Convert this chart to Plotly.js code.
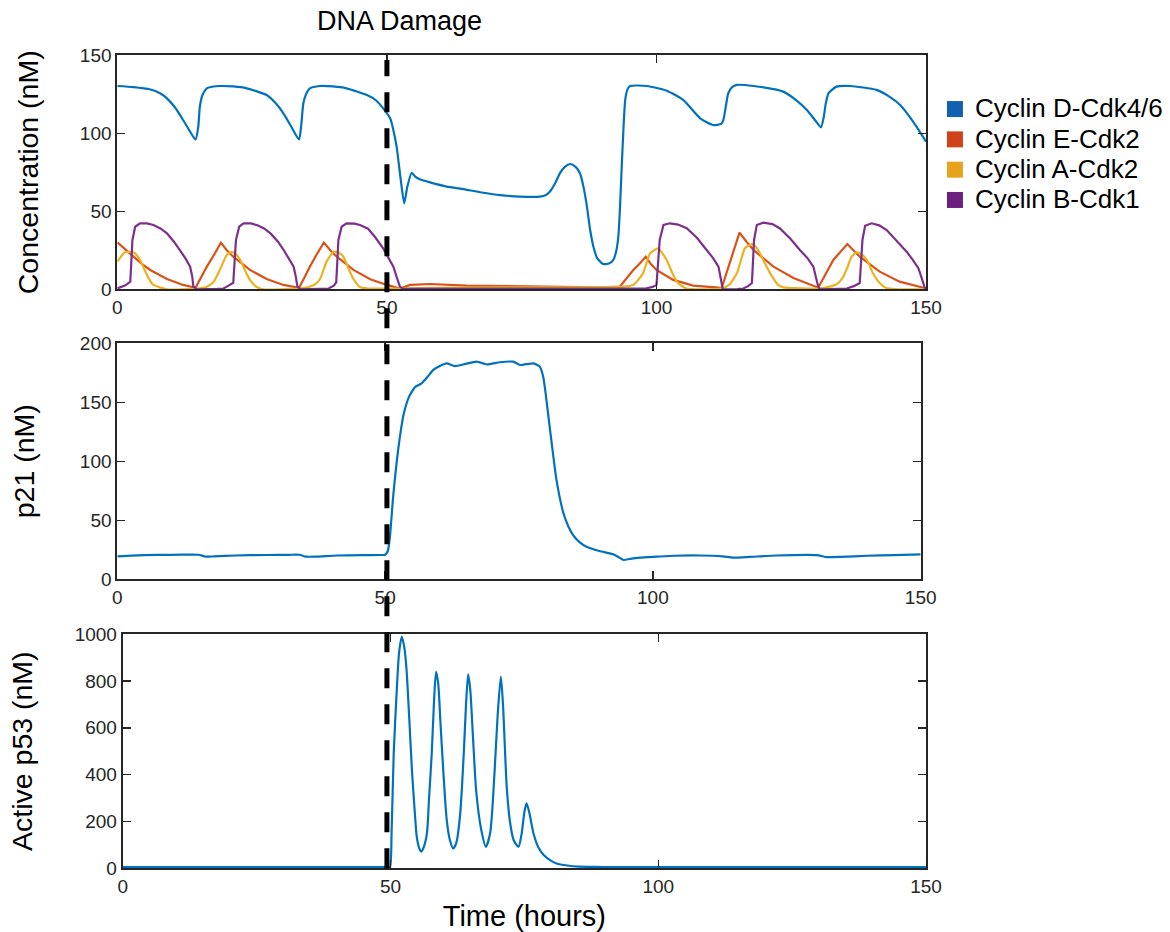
<!DOCTYPE html>
<html>
<head>
<meta charset="utf-8">
<script src="https://cdn.plot.ly/plotly-3.0.1.min.js"></script>
<style>html,body{margin:0;padding:0;background:#fff;}#chart{width:1170px;height:932px;}</style>
</head>
<body>
<div id="chart"></div>
<script>
// ---- Data ----
const seriesNames = ['Cyclin D-Cdk4/6', 'Cyclin E-Cdk2', 'Cyclin A-Cdk2', 'Cyclin B-Cdk1'];

const cycDT = [0,3,6,8,9.2,10.7,12.2,13.5,14.5,15.0,15.3,15.8,16.6,17.8,19.0,21.5,24,27.7,29.3,30.8,32.3,33.7,34.1,34.5,35.0,35.7,37.6,40,42.5,46.3,48,49.3,50.6,51.2,51.8,52.5,53.2,53.8,54.6,55.3,56.1,58,61.1,63.6,67.9,71,74.7,78.4,79.5,80.2,81.2,82.1,83,84.0,85.0,85.8,86.5,87.1,87.7,88.3,89.0,90.1,91.2,92.0,92.5,92.9,93.2,93.5,93.9,94.2,94.6,95.1,98.2,101.9,105.0,108.1,110.5,112.0,112.4,112.9,113.3,114.0,114.9,118.0,123.5,126,127.9,129.5,130.5,131.0,131.4,131.9,133.4,135.9,140.8,143.2,145.2,147.6,150];
const cycD  = [130.3,129.6,128.2,125.5,122.4,116.5,108.5,101,96,104,117,124.5,128.8,130,130.3,130,128.8,124.5,119.5,112.8,104,96,105,119.2,125,128.8,130.3,130,128.8,124.5,121,116,109.6,102,91.4,72,55.1,66,74.7,72,70.5,68.5,65.8,64.5,61.9,60.4,59.4,59.4,60.5,62.5,68,74.5,78.5,80.3,78.5,74.4,65,53,38,27.3,20,16.2,16.5,18.8,24,33,50,74.4,105,121.3,128,130.3,130.3,127.3,121.3,109.6,105.3,106,108.5,118,125.6,129.5,131,130.3,126.7,121,115,108,103.8,110,119,125.6,129.9,130.3,127.8,123.5,118.1,107.4,94.6];

const cycET = [0,1.5,3,4.6,6.1,9.2,12.2,14.5,15.5,16.6,18,19.2,20.3,21.5,24.6,27.7,30.8,33.7,34.7,35.7,37,38.3,39.5,40.7,43.8,46.9,50,52.4,54.3,58,64.8,74.7,80,89.5,93.2,94.2,95.7,96.9,98.0,99,100,103.1,106.8,112.1,113.6,115.4,116.7,118,121.7,125.4,130,131.4,132.8,135.4,137.7,141.4,145.1,149.5,150];
const cycE  = [30.1,25.2,20.9,16.2,12.4,6.6,2.8,1,7.5,14.5,22.5,29.9,25,20.9,12.4,6.6,2.8,1,7.5,14.5,22.5,29.9,25,20.9,12.4,6.4,2.8,0.5,2.8,3.4,2.4,1.9,1.5,1.3,1.7,6,12.4,16.5,20.9,16,12.4,6,2.4,1,17,36.3,30.5,25.2,14.5,7.3,1,10,18.8,29,20.9,11.3,4.9,1,0.8];

const cycAT = [0,1.4,3,4.0,4.8,5.8,6.7,9.2,14.8,16.5,17.8,19.0,20.3,21.2,22.0,22.8,23.7,24.6,25.8,27,33.7,35.5,36.8,37.6,38.8,40.1,41,41.9,42.9,43.8,45,46.5,52,60,80,93,95.7,97.5,98.8,100.3,101.1,101.9,103,104,105.5,112,113.5,114.9,115.7,116.4,117.7,118.5,119.2,120.2,121.1,122.5,123.5,130,132.5,133.7,134.6,135.4,136.2,137.1,138,139,140.2,141.4,142.5,145,150];
const cycA  = [17.7,23.7,23.7,20,14.5,7,2.8,0,0.5,1.5,4.5,12.4,22,24,22.5,18.8,12,6,1.5,0,0.5,1.5,3.5,6.6,17.7,24,23.5,21,13,6.6,1.5,0.5,0.5,1,1.3,1.5,2.8,10.2,23,26.3,23,18.8,10,4,0.5,0.5,3,10.2,19,26.3,29,27,23,16,10.2,3,1.2,0.5,2,4,7.7,14,20.9,23.7,22.5,18.8,10,4,1,0,0];

const cycBT = [0,1.5,2.4,2.8,3.3,4.2,5.5,6.7,8,9.2,10.5,11.6,12.6,13.5,13.9,14.1,14.8,18.5,19.7,20.7,21.5,22.0,22.6,23.4,24.8,26,27.3,28.5,29.8,30.8,31.8,32.7,33.1,33.4,34,38,39.2,40.2,40.6,41.0,41.6,42.5,44,45,46.5,47.8,49.3,50.3,51.2,51.8,52.4,53,70,90,98,99.3,100,100.6,101.3,102.5,104,105.6,107.5,109.3,110.5,111.5,111.8,112.1,112.3,115,116.1,117,117.7,118.1,118.6,119.8,121.5,122.9,124.8,126.6,128,129.1,129.6,130.0,130.3,134,135.3,136.6,137.7,138.2,138.7,139.9,141.3,142.7,144.5,146.4,147.5,148.6,149.3,149.8,150];
const cycB  = [0.6,2.5,4.9,31.6,40.1,42.3,42.2,41.2,39,35.9,30.5,25.2,20,14.5,8,1.7,0,0.3,0.5,2.5,4.2,31.6,40.1,42.3,42.2,41,38.8,35.5,30.5,25.5,20,14.5,8,1.7,0,0.3,0.5,2.5,4.5,31.6,40.1,42.3,42.1,41.2,38.8,33.5,26.3,20,14.5,8,1.7,0.3,0.2,0.3,0.5,1.5,2.8,31.6,41.2,42.3,41.5,39.1,33,25.2,20,14.5,8,1.7,0,0.2,0.5,2,4,31.6,41.2,42.7,41.8,39,32.5,25.2,20,14.5,8,1.7,0,0.3,0.5,2,4,31.6,40.7,42.3,41,38,31.5,24.1,19,13.4,6,0.5,0.3];

const p21T = [0,5,10,14,15.2,16.5,18,22,28,32,34,35.2,37,41,46,49.6,50,50.5,50.9,51.5,52.5,53.5,54.5,55.6,56.8,58,59,60.3,61.5,63,65,67.1,69,71.4,73.9,75.2,77.7,78.9,79.5,79.9,80.8,82,83.3,84.2,85.1,86.3,87.6,90,92.6,93.5,94.5,96,97.6,100.7,104,108.8,113,115,118,123,130.6,132.5,135,140,145,150];
const p21  = [19.5,20.5,20.8,21,20.8,19.2,19.4,20.2,20.6,20.8,20.8,19.2,19.2,20.2,20.5,20.6,20.8,24,36,70,112,140.7,155,163,166,172,177.4,181,183,180.7,182.5,184.4,182,183.9,184.4,181.6,183,180,172,160,126.5,84,56,45,37.5,31.5,27.6,24,21.2,19,16.4,17.6,18.4,19.2,20,20.2,19.5,18.4,19,20.2,20.5,18.8,19,20,20.5,21.2];

const p53T = [0,10,20,30,40,49,49.6,49.9,50.2,50.6,51.2,51.6,52.1,52.6,53.0,53.5,54,54.5,54.9,55.3,55.7,56.2,56.8,57.2,57.7,58.1,58.5,58.9,59.3,59.9,60.5,61.1,61.7,62.3,63,63.7,64.1,64.5,64.9,65.4,66,66.9,67.8,68.6,69.4,70.0,70.6,71.0,71.7,72.3,73,73.9,74.5,75.0,75.4,75.9,76.7,77.6,78.6,80,81,83,85.2,88,92,100,120,150];
const p53  = [5,5,5,5,5,5,5,5,150,491,775,920,988,940,846,640,420,250,135,90,71,90,149,300,491,700,839,790,633,400,206,120,85,110,230,500,700,828,760,560,330,170,92,150,400,650,818,700,348,200,120,92,150,240,277,240,149,90,57,32,21,12,7,6,5,5,5,5];

const damageTime = 50;
const xTicks = [0, 50, 100, 150];
const yTicksTop = [0, 50, 100, 150];
const yTicksMid = [0, 50, 100, 150, 200];
const yTicksBot = [0, 200, 400, 600, 800, 1000];

// ---- Styles ----
const lineColors = ['#0072BD', '#D95319', '#EDB120', '#7E2F8E'];
const legendColors = ['#135fb0', '#d0431a', '#e6a320', '#6c1f7f'];
const FONT = 'Liberation Sans, Arial, Helvetica, sans-serif';
const AX = '#262626';

const traces = [
  {x: cycDT, y: cycD, xaxis: 'x', yaxis: 'y', mode: 'lines', line: {color: lineColors[0], width: 2.2, shape: 'spline', smoothing: 0.6}, showlegend: false},
  {x: cycET, y: cycE, xaxis: 'x', yaxis: 'y', mode: 'lines', line: {color: lineColors[1], width: 2.2}, showlegend: false},
  {x: cycAT, y: cycA, xaxis: 'x', yaxis: 'y', mode: 'lines', line: {color: lineColors[2], width: 2.2, shape: 'spline', smoothing: 0.5}, showlegend: false},
  {x: cycBT, y: cycB, xaxis: 'x', yaxis: 'y', mode: 'lines', line: {color: lineColors[3], width: 2.2}, showlegend: false},
  {x: p21T, y: p21, xaxis: 'x2', yaxis: 'y2', mode: 'lines', line: {color: lineColors[0], width: 2.2, shape: 'spline', smoothing: 0.5}, showlegend: false},
  {x: p53T, y: p53, xaxis: 'x3', yaxis: 'y3', mode: 'lines', line: {color: lineColors[0], width: 2.2, shape: 'spline', smoothing: 0.7}, showlegend: false}
];
// legend entries (square patches)
seriesNames.forEach((n, i) => {
  traces.push({x: [null], y: [null], xaxis: 'x', yaxis: 'y', mode: 'markers',
    name: '<span style="font-size:26px">' + n + '</span>',
    marker: {symbol: 'square', size: 19, color: legendColors[i]}, showlegend: true, hoverinfo: 'skip'});
});

function xax(domain, anchor, title) {
  return {
    domain: domain, anchor: anchor, range: [0, 150], tickvals: xTicks, ticktext: xTicks.map(String),
    ticks: 'inside', ticklen: 8, tickwidth: 1.5, tickcolor: AX,
    showline: true, linecolor: AX, linewidth: 2, mirror: 'ticks',
    showgrid: false, zeroline: false, automargin: false,
    tickfont: {family: FONT, size: 19, color: AX},
    title: title ? {text: title, font: {family: FONT, size: 29, color: '#000'}, standoff: 10} : undefined
  };
}
function yax(domain, anchor, range, ticks, title, standoff) {
  return {
    domain: domain, anchor: anchor, range: range, tickvals: ticks, ticktext: ticks.map(String),
    ticks: 'inside', ticklen: 8, tickwidth: 1.5, tickcolor: AX,
    showline: true, linecolor: AX, linewidth: 2, mirror: 'ticks',
    showgrid: false, zeroline: false, automargin: false,
    tickfont: {family: FONT, size: 19, color: AX},
    title: {text: title, font: {family: FONT, size: 28.5, color: '#000'}, standoff: standoff}
  };
}

const layout = {
  width: 1170, height: 932,
  margin: {l: 0, r: 0, t: 0, b: 0, autoexpand: false},
  paper_bgcolor: '#fff', plot_bgcolor: '#fff',
  font: {family: FONT, color: '#000'},
  xaxis:  xax([0.1003, 0.7915], 'y', null),
  yaxis:  yax([0.6896, 0.9407], 'x', [0, 150], yTicksTop, 'Concentration (nM)', 33),
  xaxis2: xax([0.1003, 0.7869], 'y2', null),
  yaxis2: yax([0.3784, 0.6317], 'x2', [0, 200], yTicksMid, 'p21 (nM)', 37),
  xaxis3: xax([0.1049, 0.7915], 'y3', 'Time (hours)'),
  yaxis3: yax([0.0683, 0.3197], 'x3', [0, 1000], yTicksBot, 'Active p53 (nM)', 34),
  legend: {x: 0.7991, xanchor: 'left', y: 0.9046, yanchor: 'top', bgcolor: 'rgba(0,0,0,0)',
    font: {family: FONT, size: 21, color: '#000'}, itemwidth: 30, tracegroupgap: 0},
  shapes: [{type: 'line', xref: 'x', yref: 'paper', x0: damageTime, x1: damageTime, y0: 0.0683, y1: 0.9356,
    line: {color: '#000', width: 5, dash: '20px,16px'}, layer: 'above'}],
  annotations: [{text: 'DNA Damage', xref: 'x', x: damageTime, xshift: 13, yref: 'paper', y: 0.978, yanchor: 'middle',
    showarrow: false, font: {family: FONT, size: 27, color: '#000'}}]
};

Plotly.newPlot('chart', traces, layout, {staticPlot: true, displayModeBar: false});
</script>
</body>
</html>
